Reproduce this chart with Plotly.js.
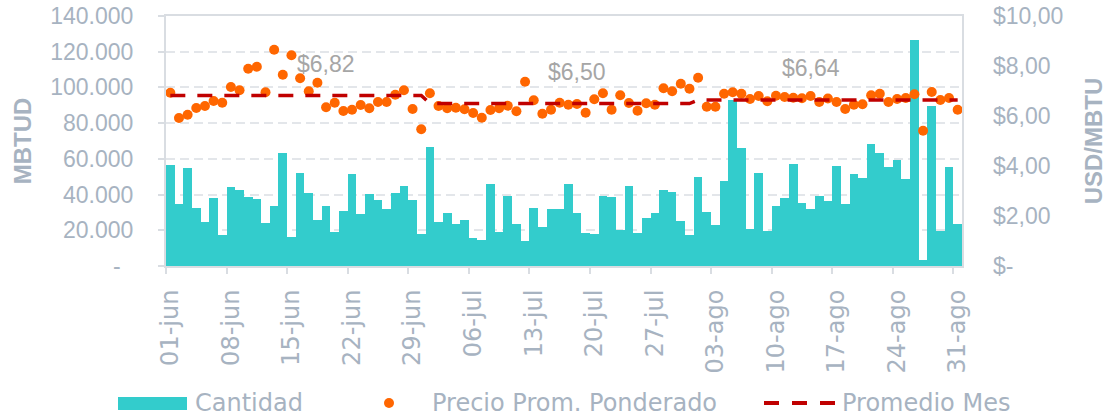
<!DOCTYPE html>
<html>
<head>
<meta charset="utf-8">
<script src="https://cdn.plot.ly/plotly-3.0.1.min.js"></script>
<style>html,body{margin:0;padding:0;background:#fff;}#chart{width:1112px;height:418px;}</style>
</head>
<body>
<div id="chart"></div>
<script>
// ---- data ----
const months = ['jun', 'jul', 'ago'];
const monthDays = [30, 31, 31];
const monthAvg = [6.82, 6.50, 6.64];
const monthLabelDay = [18, 47, 74];

const cantidad = [
  // junio
  56400, 34700, 54900, 32700, 24500, 37900, 17400, 44200, 42400, 38800,
  37500, 24300, 33400, 63100, 16400, 52300, 40700, 25800, 33800, 19200,
  31000, 51700, 28900, 40300, 37100, 32100, 40900, 44800, 37100, 17900,
  // julio
  66500, 24800, 29700, 23500, 25600, 15500, 14600, 46100, 19200, 39200,
  23700, 14000, 32300, 21800, 32100, 32100, 45700, 29900, 18700, 17700,
  39200, 38500, 20300, 44800, 18700, 26900, 29500, 42700, 41600, 25200, 17400,
  // agosto
  49800, 30200, 23000, 47400, 93000, 66100, 20700, 52100, 19800, 33800,
  38300, 57100, 35300, 31900, 39400, 36200, 56200, 34900, 51700, 49500,
  68500, 63300, 55300, 59200, 48900, 126600, 3500, 89600, 19400, 55300, 23300
];

const precio = [
  // junio
  6.93, 5.92, 6.05, 6.32, 6.40, 6.60, 6.53, 7.16, 7.03, 7.89,
  7.97, 6.95, 8.65, 7.65, 8.43, 7.51, 6.99, 7.33, 6.35, 6.53,
  6.20, 6.25, 6.44, 6.31, 6.56, 6.56, 6.85, 7.03, 6.28, 5.47,
  // julio
  6.91, 6.40, 6.31, 6.33, 6.27, 6.12, 5.93, 6.24, 6.31, 6.41,
  6.19, 7.37, 6.63, 6.09, 6.25, 6.53, 6.45, 6.48, 6.13, 6.67,
  6.91, 6.25, 6.83, 6.52, 6.21, 6.51, 6.45, 7.11, 6.99, 7.29, 7.09,
  // agosto
  7.53, 6.37, 6.37, 6.89, 6.95, 6.89, 6.68, 6.80, 6.59, 6.81,
  6.76, 6.73, 6.71, 6.80, 6.56, 6.70, 6.56, 6.28, 6.45, 6.47,
  6.83, 6.89, 6.56, 6.68, 6.72, 6.87, 5.41, 6.96, 6.64, 6.72, 6.25
];

const leftTickVals = [0, 20000, 40000, 60000, 80000, 100000, 120000, 140000];
const leftTickText = ['-\u00a0\u00a0', '20.000', '40.000', '60.000', '80.000', '100.000', '120.000', '140.000'];
const rightTickVals = [0, 2, 4, 6, 8, 10];
const rightTickText = ['$-', '$2,00', '$4,00', '$6,00', '$8,00', '$10,00'];

// ---- derived categories ----
const dates = [];
const promedio = [];
months.forEach((m, mi) => {
  for (let d = 1; d <= monthDays[mi]; d++) {
    dates.push((d < 10 ? '0' : '') + d + '-' + m);
    promedio.push(monthAvg[mi]);
  }
});
const idx = dates.map((_, i) => i);
const xTickVals = idx.filter(i => i % 7 === 0);
const xTickText = xTickVals.map(i => dates[i]);

const gray = '#a7b3c1';
const lineGray = '#d9dde2';

const traces = [
  { type: 'bar', name: 'Cantidad', x: idx, y: cantidad, yaxis: 'y',
    marker: { color: '#33cccc', line: { width: 0 } }, hoverinfo: 'skip' },
  { type: 'scatter', mode: 'markers', name: 'Precio Prom. Ponderado', x: idx, y: precio, yaxis: 'y2',
    marker: { color: '#ff6600', size: 10 } },
  { type: 'scatter', mode: 'lines', name: 'Promedio Mes', x: idx, y: promedio, yaxis: 'y2',
    line: { color: '#c00000', width: 3.5, dash: '15px,12px' } }
];

const annotations = monthAvg.map((v, i) => ({
  xref: 'x', yref: 'y2', x: monthLabelDay[i], y: v, yshift: 32,
  text: '$' + v.toFixed(2).replace('.', ','), showarrow: false,
  font: { family: 'Liberation Sans, Arial, sans-serif', size: 23, color: '#a6a6a6' }
}));

// legend (drawn manually to get the wide bar swatch)
const px = v => (v - 166) / 796;
const py = v => (266 - v) / 250;
const legFont = { family: 'DejaVu Sans, sans-serif', size: 24, color: gray };
annotations.push(
  { xref: 'paper', yref: 'paper', x: px(193), y: py(403), xanchor: 'left', yanchor: 'middle', text: 'Cantidad', showarrow: false, font: legFont },
  { xref: 'paper', yref: 'paper', x: px(430), y: py(403), xanchor: 'left', yanchor: 'middle', text: 'Precio Prom. Ponderado', showarrow: false, font: legFont },
  { xref: 'paper', yref: 'paper', x: px(840), y: py(403), xanchor: 'left', yanchor: 'middle', text: 'Promedio Mes', showarrow: false, font: legFont }
);
const shapes = [
  { type: 'rect', xref: 'paper', yref: 'paper', x0: px(118), x1: px(187), y0: py(410), y1: py(397), fillcolor: '#33cccc', line: { width: 0 } },
  { type: 'circle', xref: 'paper', yref: 'paper', x0: px(384), x1: px(394), y0: py(408), y1: py(398), fillcolor: '#ff6600', line: { width: 0 } },
  { type: 'line', xref: 'paper', yref: 'paper', x0: px(764), x1: px(836), y0: py(403), y1: py(403), line: { color: '#c00000', width: 4, dash: '15px,13px' } }
];

const titleFont = { family: 'Liberation Sans, Arial, sans-serif', size: 24, weight: 'bold', color: gray };

const layout = {
  width: 1112, height: 418,
  margin: { l: 166, r: 150, t: 16, b: 152, pad: 0 },
  paper_bgcolor: '#ffffff', plot_bgcolor: '#ffffff',
  showlegend: false, bargap: 0, separators: ',.',
  xaxis: {
    range: [-0.5, 91.5], tickmode: 'array', tickvals: xTickVals, ticktext: xTickText,
    tickangle: -90, ticks: '', ticklabelstandoff: 12,
    tickfont: { family: 'DejaVu Sans, sans-serif', size: 24, color: gray },
    showline: true, linecolor: lineGray, linewidth: 2, mirror: true,
    showgrid: false, zeroline: false, fixedrange: true,
    minor: { tickmode: 'array', tickvals: xTickVals.map(v => v - 0.5), ticks: 'outside', ticklen: 6, tickwidth: 2, tickcolor: lineGray, showgrid: false }
  },
  yaxis: {
    range: [0, 140000], tickmode: 'array', tickvals: leftTickVals, ticktext: leftTickText,
    tickfont: { family: 'Liberation Sans, Arial, sans-serif', size: 23, color: gray },
    ticks: 'outside', ticklen: 6, tickwidth: 2, tickcolor: lineGray, ticklabelstandoff: 20,
    showgrid: true, gridcolor: '#e3e6ea', gridwidth: 2, griddash: '9px,5px',
    showline: true, linecolor: lineGray, linewidth: 2, mirror: true, zeroline: false,
    title: { text: 'MBTUD', standoff: 12, font: titleFont }
  },
  yaxis2: {
    range: [0, 10], overlaying: 'y', side: 'right', tickmode: 'array', tickvals: rightTickVals, ticktext: rightTickText,
    tickfont: { family: 'Liberation Sans, Arial, sans-serif', size: 23, color: gray },
    ticks: '', ticklabelstandoff: 30, showgrid: false, zeroline: false, showline: false,
    title: { text: 'USD/MBTU', standoff: 22, font: titleFont }
  },
  annotations: annotations,
  shapes: shapes
};

Plotly.newPlot('chart', traces, layout, { displayModeBar: false, staticPlot: true });
</script>
</body>
</html>
